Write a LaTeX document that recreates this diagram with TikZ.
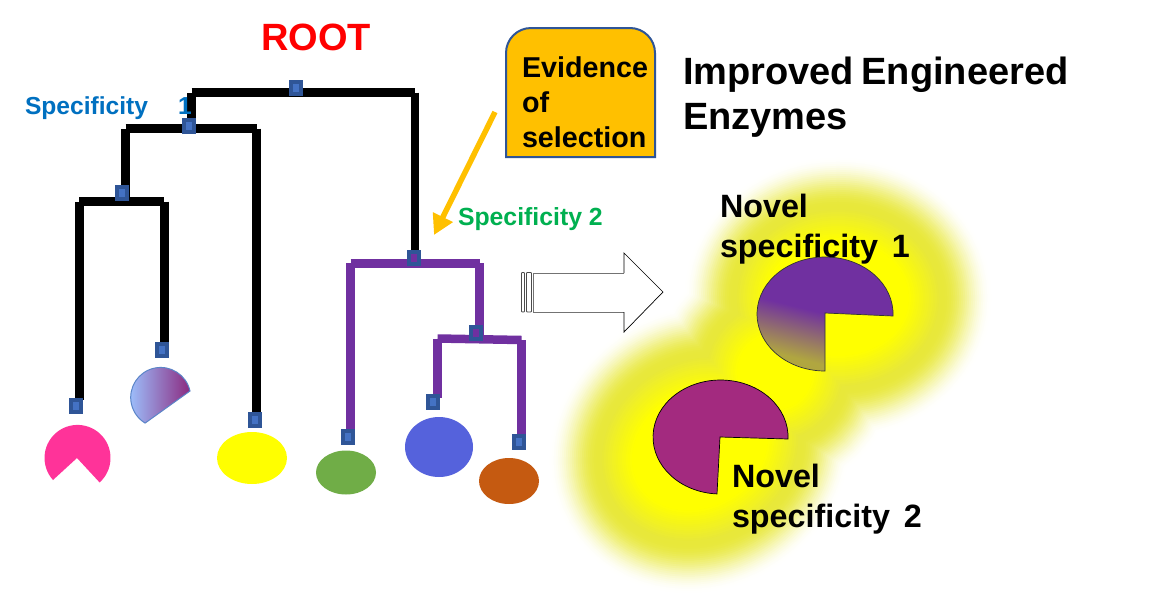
\documentclass[tikz,border=0pt]{standalone}
\usepackage{fontspec}
\setmainfont{Liberation Sans}
\usetikzlibrary{arrows.meta}
\definecolor{markOuter}{HTML}{2F5597}
\definecolor{markInner}{HTML}{4472C4}
\definecolor{treePurple}{HTML}{7030A0}
\definecolor{amberBox}{HTML}{FFC000}
\definecolor{glowBand}{HTML}{E8E83A}
\definecolor{pureYellow}{HTML}{FFFF00}
\definecolor{pacTwo}{HTML}{A32A7F}
\definecolor{pacOlive}{HTML}{B0A640}
\definecolor{pinkPac}{HTML}{FF3399}
\definecolor{halfLeft}{HTML}{9DC3FF}
\definecolor{halfMid}{HTML}{9C96DC}
\definecolor{halfRight}{HTML}{8B2A80}
\definecolor{halfEdge}{HTML}{5B85C8}
\definecolor{leafGreen}{HTML}{70AD47}
\definecolor{leafBlue}{HTML}{5562DC}
\definecolor{leafOrange}{HTML}{C55A11}
\definecolor{specBlue}{HTML}{0070C0}
\definecolor{specGreen}{HTML}{00B050}
\pgfdeclareverticalshading{pacfade}{100bp}{color(0bp)=(pacOlive);color(29bp)=(pacOlive);color(50bp)=(treePurple);color(100bp)=(treePurple)}
\tikzset{
  x=1pt,y=-1pt,
  blacktree/.style={draw=black,line width=8.5pt},
  purpletree/.style={draw=treePurple,line width=8.5pt},
  marker/.style={rectangle,draw=markOuter,fill=markInner,line width=4pt,minimum width=10pt,minimum height=12pt,inner sep=0pt},
  pmarker/.style={marker,fill=treePurple},
  label/.style={anchor=base west,inner sep=0pt,outer sep=0pt},
}
\def\fs#1#2{\fontsize{#1}{#2}\selectfont\bfseries}
\def\pacone{(893,316) arc[start angle=-2,end angle=270,x radius=68pt,y radius=57pt] -- (825,313) -- cycle}
\def\pactwo{(788,439) arc[start angle=-2,end angle=267,x radius=67.5pt,y radius=57pt] -- (720,437) -- cycle}
\def\glowlayer#1#2{%
  \path[fill=#2,draw=#2,line width=2*#1] (838,298) ellipse[x radius=55pt,y radius=42pt];
  \path[fill=#2,draw=#2,line width=2*#1,rotate around={30:(700,449)}] (700,449) ellipse[x radius=55pt,y radius=42pt];
  \path[fill=#2,draw=#2,line width=2*#1] (775,372) circle[radius=22pt];
}
\begin{document}
\begin{tikzpicture}
\useasboundingbox (0,0) rectangle (1154,611);
\fill[white] (0,0) rectangle (1154,611);
% glow
\foreach \d in {100,98,...,50}{
  \pgfmathsetmacro{\t}{100*(1-cos(180*(100-\d)/50))/2}
  \glowlayer{\d}{glowBand!\t!white}
}
\foreach \d in {48,46,...,16}{
  \pgfmathsetmacro{\t}{(48-\d)/32*100}
  \glowlayer{\d}{pureYellow!\t!glowBand}
}
\glowlayer{14}{pureYellow}
% pacmen in glow
\shade[shading=pacfade,shading angle=-14] \pacone;
\draw[black!80,line width=0.7pt] \pacone;
\fill[pacTwo] \pactwo;
\draw[black,line width=0.7pt] \pactwo;
% tree coordinates
\coordinate (r1) at (191.5,92.5); \coordinate (r2) at (415,92.5);
\coordinate (r3) at (191.5,128.5);
\coordinate (a1) at (125.7,128.5); \coordinate (a2) at (256.7,128.5);
\coordinate (b0) at (125.7,201.7); \coordinate (b1) at (79.3,201.7); \coordinate (b2) at (164.3,201.7);
\coordinate (bl) at (79.3,400); \coordinate (br) at (164.3,345); \coordinate (al) at (256.7,415);
\coordinate (rb) at (415,258);
\coordinate (c1) at (350.5,263.3); \coordinate (c2) at (479.5,263.3);
\coordinate (d1) at (437.5,338.5); \coordinate (d2) at (521.5,340);
\coordinate (d0) at (479.5,339);
\coordinate (cl) at (350.5,432); \coordinate (dl) at (437.5,398); \coordinate (dr) at (521.5,437);
\draw[blacktree] (r1) -- (r2);
\draw[blacktree] (r1) -- (r3);
\draw[blacktree] (a1) -- (a2);
\draw[blacktree] (a1) -- (b0);
\draw[blacktree] (b1) -- (b2);
\draw[blacktree] (b1) -- (bl);
\draw[blacktree] (b2) -- (br);
\draw[blacktree] (a2) -- (al);
\draw[blacktree] (r2) -- (rb);
\draw[purpletree] (c1) -- (c2);
\draw[purpletree] (c1) -- (cl);
\draw[purpletree] (c2) -- (d0);
\draw[purpletree] (d1) -- (d2);
\draw[purpletree] (d1) -- (dl);
\draw[purpletree] (d2) -- (dr);
\node[marker] (mroot) at (296,88) {};
\node[marker] (mA) at (189,126) {};
\node[marker] (mB) at (122,193) {};
\node[marker] (mC) at (162,350) {};
\node[marker] (mD) at (76,406) {};
\node[marker] (mE) at (255,420) {};
\node[pmarker] (mF) at (414,258) {};
\node[pmarker] (mG) at (476,333) {};
\node[marker] (mH) at (348,437) {};
\node[marker] (mI) at (433,402) {};
\node[marker] (mJ) at (519,442) {};
% leaves
\fill[pinkPac] (53,480) arc[start angle=222,end angle=-48,radius=33pt] -- (77,458) -- cycle;
\shade[left color=halfLeft,middle color=halfMid,right color=halfRight]
  (190,391) arc[start angle=12.4,end angle=238.7,radius=30pt] -- cycle;
\draw[halfEdge,line width=1pt] (190,391) arc[start angle=12.4,end angle=238.7,radius=30pt] -- cycle;
\fill[pureYellow] (252,458) ellipse[x radius=35pt,y radius=26pt];
\fill[leafGreen] (346,472.5) ellipse[x radius=30pt,y radius=22pt];
\fill[leafBlue] (439,447) ellipse[x radius=34pt,y radius=30pt];
\fill[leafOrange] (509,481) ellipse[x radius=30pt,y radius=23pt];
% evidence box + arrow
\draw[fill=amberBox,draw=markOuter,line width=2pt] (506,157) -- (506,53) arc[start angle=180,end angle=90,radius=25pt] -- (630,28) arc[start angle=90,end angle=0,radius=25pt] -- (655,157) -- cycle;
\coordinate (arrowStart) at (495,112);
\coordinate (arrowEnd) at (434,235);
\draw[draw=amberBox,line width=5.5pt,-{Triangle[length=20pt,width=21pt]}] (arrowStart) -- (arrowEnd);
% block arrow
\draw[draw=black!70,line width=0.8pt,rounded corners=0.8pt] (521.5,272.5) rectangle (524.5,312);
\draw[draw=black!70,line width=0.8pt,rounded corners=0.8pt] (526.5,272.5) rectangle (531.5,312);
\draw[draw=black!55,line width=1pt] (624,273) -- (533,273) -- (533,312) -- (624,312);
\draw[draw=black,line width=0.7pt] (624,273) -- (624,253) -- (663,292) -- (624,332) -- (624,312);
% labels
\node[label,red] (root) at (261,50) {\fs{38}{45}ROOT};
\node[label,align=left,font=\fs{28.7}{35}] (evid) at (522,147) {Evidence\\of\\selection};
\node[label,align=left,font=\fs{38}{45}] (impr) at (683,129) {Improved\hspace{-3pt} Engineered\\Enzymes};
\node[label,align=left,font=\fs{32.3}{39.5}] (nov1) at (720,257) {Novel\\specificity\hspace{5pt} 1};
\node[label,align=left,font=\fs{32.3}{39.5}] (nov2) at (732,527) {Novel\\specificity\hspace{5pt} 2};
\node[label,specBlue] (spec1) at (25,114) {\fs{24.6}{30}Specificity\hspace{30pt}1};
\node[label,specGreen] (spec2) at (458,225) {\fs{24.8}{30}Specificity 2};
\end{tikzpicture}
\end{document}
